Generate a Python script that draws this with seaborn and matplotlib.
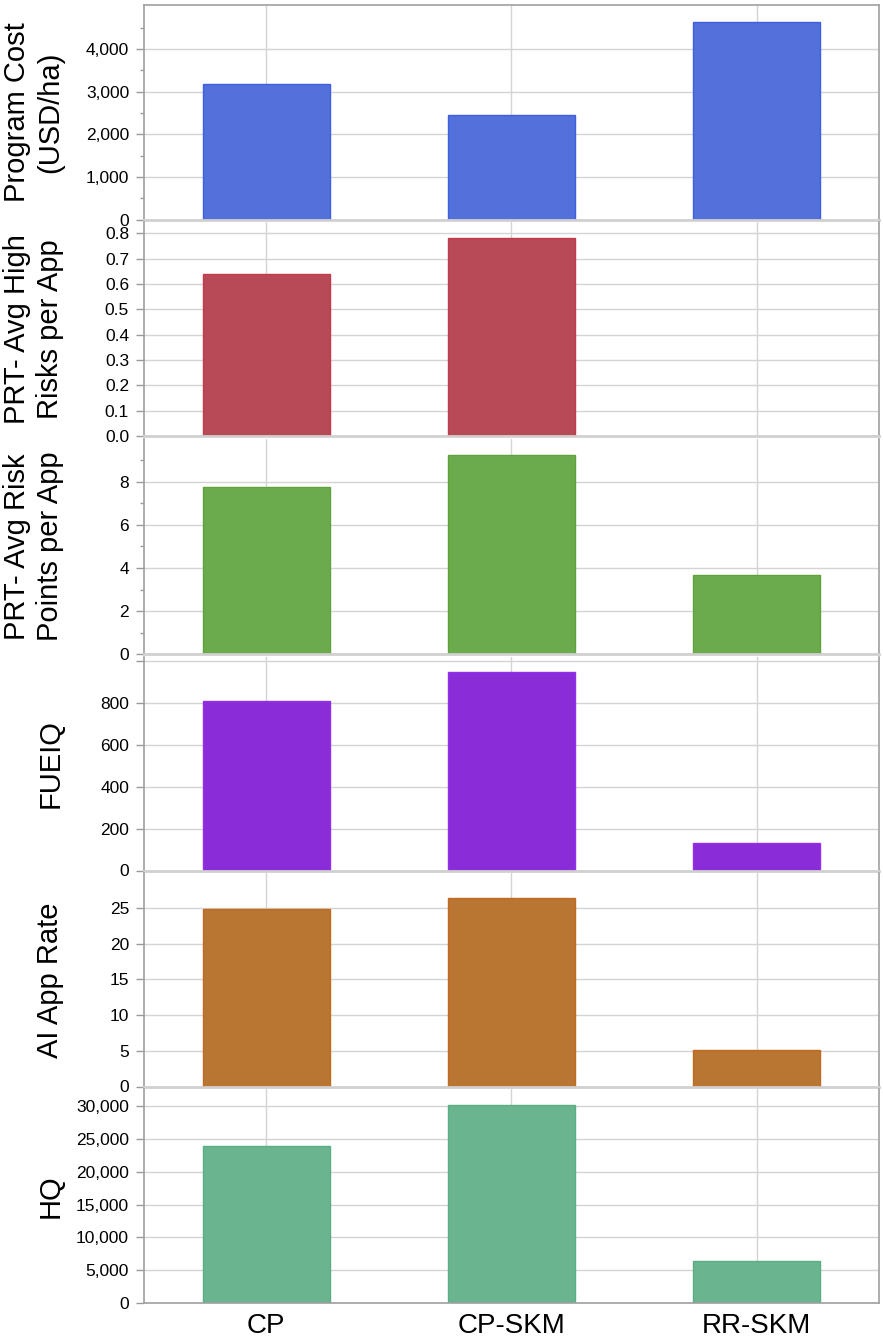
import numpy as np
import pandas as pd
import seaborn as sns
import matplotlib.pyplot as plt
from matplotlib.ticker import FixedLocator, MultipleLocator, FuncFormatter

# Data
categories = ["CP", "CP-SKM", "RR-SKM"]
program_cost = [3185, 2455, 4625]
high_risks = [0.638, 0.780, 0.0]
risk_points = [7.75, 9.24, 3.67]
fueiq = [808, 947, 133]
ai_app_rate = [24.8, 26.4, 5.15]
hq = [23900, 30150, 6480]

panel_labels = ["Program Cost\n(USD/ha)", "PRT- Avg High\nRisks per App",
                "PRT- Avg Risk\nPoints per App", "FUEIQ", "AI App Rate", "HQ"]

# Styling
fills = ["#5470da", "#b84a57", "#6bab4d", "#8a2dd8", "#b87632", "#6ab590"]
edges = ["#3d5fe0", "#c23a4c", "#5ea23c", "#9330ee", "#c06a22", "#5aae84"]

sns.set_theme(style="whitegrid")
plt.rcParams['font.family'] = ['Liberation Sans', 'DejaVu Sans']

W, H = 883, 1339
LEFT, RIGHT = 143.7, 879.3
# (top, bottom) of each panel in pixels
rows = [(5, 219.7), (221.5, 436), (439, 654.3), (657, 870.5), (873, 1086.5), (1089, 1303.3)]

fig = plt.figure(figsize=(W / 100, H / 100), dpi=100)

series = [program_cost, high_risks, risk_points, fueiq, ai_app_rate, hq]
ylims = [5030, 0.846, 9.98, 1020, 29.9, 32550]
comma = FuncFormatter(lambda v, p: f"{v:,.0f}")

axes = []
for i, (vals, (top, bot)) in enumerate(zip(series, rows)):
    ax = fig.add_axes([LEFT / W, 1 - bot / H, (RIGHT - LEFT) / W, (bot - top) / H])
    df = pd.DataFrame({"group": categories, "value": vals})
    sns.barplot(data=df, x="group", y="value", ax=ax, color=fills[i],
                saturation=1, width=0.52, errorbar=None,
                edgecolor=edges[i], linewidth=1.0)
    for p in ax.patches:
        if p.get_height() == 0:
            p.set_linewidth(0)
    ax.set_xlim(-0.5, 2.5)
    ax.set_ylim(0, ylims[i])
    ax.set_axisbelow(True)
    ax.grid(True, color="#d4d4d4", linewidth=1.0)
    ax.set_ylabel(panel_labels[i], fontsize=21, color="black", linespacing=1.22)
    ax.yaxis.set_label_coords(-0.108, 0.5)
    ax.set_xlabel("")
    ax.tick_params(axis="y", which="major", left=True, length=6, width=1,
                   color="#999999", labelsize=12.5, labelcolor="black", pad=4.5)
    ax.tick_params(axis="y", which="minor", left=True, length=3, width=1,
                   color="#999999")
    for side in ["left", "right", "top", "bottom"]:
        ax.spines[side].set_color("#a0a0a0")
        ax.spines[side].set_linewidth(1.2)
    ax.spines["top"].set_visible(i == 0)
    if i < 5:
        ax.spines["bottom"].set_color("#d0d0d0")
        ax.spines["bottom"].set_linewidth(2)
        ax.tick_params(axis="x", bottom=False, labelbottom=False)
    else:
        ax.tick_params(axis="x", bottom=False, labelsize=20, labelcolor="black", pad=1)
    axes.append(ax)

# Per-panel tick layout
axes[0].yaxis.set_major_locator(FixedLocator([0, 1000, 2000, 3000, 4000]))
axes[0].yaxis.set_minor_locator(FixedLocator([500, 1500, 2500, 3500, 4500]))
axes[0].yaxis.set_major_formatter(comma)

axes[1].yaxis.set_major_locator(FixedLocator(np.arange(0, 0.81, 0.1)))
axes[1].yaxis.set_major_formatter(FuncFormatter(lambda v, p: f"{v:.1f}"))

axes[2].yaxis.set_major_locator(MultipleLocator(2))
axes[2].yaxis.set_minor_locator(MultipleLocator(1))

axes[3].yaxis.set_major_locator(FixedLocator([0, 200, 400, 600, 800, 1000]))
axes[3].yaxis.set_major_formatter(FuncFormatter(lambda v, p: "" if v >= 1000 else f"{v:.0f}"))

axes[4].yaxis.set_major_locator(MultipleLocator(5))

axes[5].yaxis.set_major_locator(MultipleLocator(5000))
axes[5].yaxis.set_major_formatter(comma)

fig.savefig("out.png", dpi=100)
